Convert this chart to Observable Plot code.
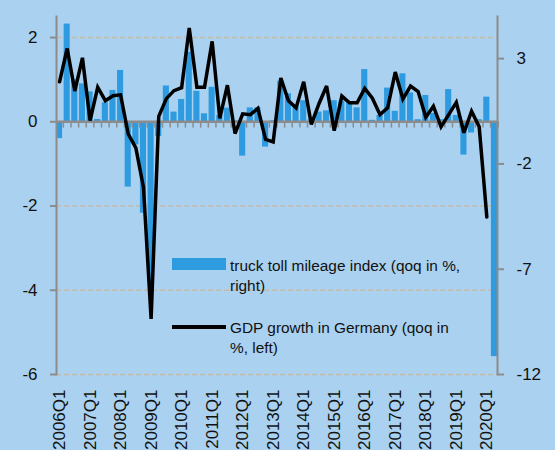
<!DOCTYPE html>
<html><head><meta charset="utf-8">
<script src="https://cdn.jsdelivr.net/npm/d3@7"></script>
<script src="https://cdn.jsdelivr.net/npm/@observablehq/plot@0.6"></script>
<style>
html,body{margin:0;padding:0;background:#aad1f0;}
#wrap{position:relative;width:555px;height:450px;overflow:hidden;font-family:"Liberation Sans",Arial,sans-serif;background:#aad1f0;}
#wrap svg{display:block;}
.leg{position:absolute;font-size:15.4px;line-height:20px;color:#111;white-space:nowrap;}
.sw{position:absolute;}
</style></head><body><div id="wrap"></div>
<script>
const quarters = [
"2006Q1","2006Q2","2006Q3","2006Q4","2007Q1","2007Q2","2007Q3","2007Q4",
"2008Q1","2008Q2","2008Q3","2008Q4","2009Q1","2009Q2","2009Q3","2009Q4",
"2010Q1","2010Q2","2010Q3","2010Q4","2011Q1","2011Q2","2011Q3","2011Q4",
"2012Q1","2012Q2","2012Q3","2012Q4","2013Q1","2013Q2","2013Q3","2013Q4",
"2014Q1","2014Q2","2014Q3","2014Q4","2015Q1","2015Q2","2015Q3","2015Q4",
"2016Q1","2016Q2","2016Q3","2016Q4","2017Q1","2017Q2","2017Q3","2017Q4",
"2018Q1","2018Q2","2018Q3","2018Q4","2019Q1","2019Q2","2019Q3","2019Q4",
"2020Q1","2020Q2"];
// truck toll mileage index, qoq in % (right axis)
const truck = [
-0.8,4.64,2.0,1.8,1.42,0.11,0.9,1.49,
2.44,-3.1,-1.1,-4.34,-7.6,-0.7,1.7,0.46,
1.06,3.3,1.45,0.38,1.64,0.3,0.65,0.05,
-1.63,0.66,0.66,-1.2,0.05,1.93,1.33,0.75,
1.0,0.1,0.46,0.52,1.0,0.98,0.9,0.66,
2.48,0.07,0.3,1.6,0.5,2.28,1.37,0.1,
1.25,0.4,0.1,1.53,0.3,-1.58,-0.53,0.1,
1.17,-11.15];
// GDP growth in Germany, qoq in % (left axis)
const gdp = [
0.95,1.74,0.73,1.52,0.03,0.82,0.5,0.62,
0.64,-0.29,-0.62,-1.56,-4.68,0.13,0.55,0.74,
0.81,2.23,0.82,0.82,1.91,0.08,0.87,-0.28,
0.19,0.17,0.32,-0.42,-0.48,1.04,0.5,0.33,
0.95,-0.06,0.43,0.85,-0.21,0.61,0.45,0.45,
0.79,0.56,0.17,0.33,1.18,0.54,0.85,0.72,
0.11,0.37,-0.12,0.17,0.46,-0.26,0.25,-0.12,
-2.26,null];
const leftTicks = [2,0,-2,-4,-6];
const rightTicks = [3,-2,-7,-12];
const gridTicks = [2,-2,-4,-6];
const xTickLabels = ["2006Q1","2007Q1","2008Q1","2009Q1","2010Q1","2011Q1","2012Q1","2013Q1","2014Q1","2015Q1","2016Q1","2017Q1","2018Q1","2019Q1","2020Q1"];
const legendLabels = ["truck toll mileage index (qoq in %,<br>right)","GDP growth in Germany (qoq in<br>%, left)"];

const ratio = 2; // right axis = 2 x left axis
const data = quarters.map((q,i)=>({q, truck: truck[i], gdp: gdp[i]}));
const gdpData = data.filter(d => d.gdp != null);

const barColor = "#2e9be0";
const axisColor = "#8c8c8c";
const W = 555, H = 450, mL = 56, mR = 58, mT = 16, mB = 76;
const step = (W - mL - mR) / quarters.length;

const chart = Plot.plot({
  width: W, height: H,
  marginLeft: mL, marginRight: mR, marginTop: mT, marginBottom: mB,
  style: {background: "transparent", fontFamily: "'Liberation Sans', Arial, sans-serif", color: "#111"},
  x: {type: "band", domain: quarters, padding: 0.2, paddingOuter: 0, align: 0.5},
  y: {domain: [-6, 2.5]},
  marks: [
    Plot.gridY(gridTicks, {stroke: "#c4bba9", strokeOpacity: 1, strokeWidth: 1.5, strokeDasharray: "5,3"}),
    Plot.barY(data, {x: "q", y: d => d.truck / ratio, fill: barColor}),
    Plot.ruleY([0], {stroke: axisColor, strokeWidth: 2.5}),
    Plot.ruleX(quarters, {x: d => d, y1: 0, y2: -0.15, dx: step / 2, stroke: axisColor, strokeWidth: 1.5}),
    Plot.line(gdpData, {x: "q", y: "gdp", stroke: "#000", strokeWidth: 3.5, strokeLinejoin: "miter", strokeMiterlimit: 3}),
    Plot.frame({anchor: "left", stroke: axisColor, strokeWidth: 2}),
    Plot.frame({anchor: "right", stroke: axisColor, strokeWidth: 2}),
    Plot.axisY({anchor: "left", ticks: leftTicks, tickSize: 6, tickPadding: 13, fontSize: 17, stroke: axisColor, strokeWidth: 2, label: null, tickFormat: d => String(d)}),
    Plot.axisY({anchor: "right", ticks: rightTicks.map(v => v / ratio), tickSize: 6, tickPadding: 13, fontSize: 17, stroke: axisColor, strokeWidth: 2, label: null, tickFormat: d => String(Math.round(d * ratio))}),
    Plot.axisX({ticks: xTickLabels, tickRotate: -90, tickSize: 0, tickPadding: 15, fontSize: 17, label: null})
  ]
});
const wrap = document.getElementById("wrap");
wrap.appendChild(chart);

function addDiv(cls, css, html){
  const d = document.createElement("div");
  d.className = cls; d.style.cssText = css; if (html) d.innerHTML = html;
  wrap.appendChild(d);
}
addDiv("sw", `left:172px;top:258px;width:54px;height:12px;background:${barColor};`);
addDiv("leg", "left:230px;top:256px;", legendLabels[0]);
addDiv("sw", "left:172px;top:325px;width:54px;height:3.5px;background:#000;");
addDiv("leg", "left:230px;top:318px;", legendLabels[1]);
</script></body></html>
